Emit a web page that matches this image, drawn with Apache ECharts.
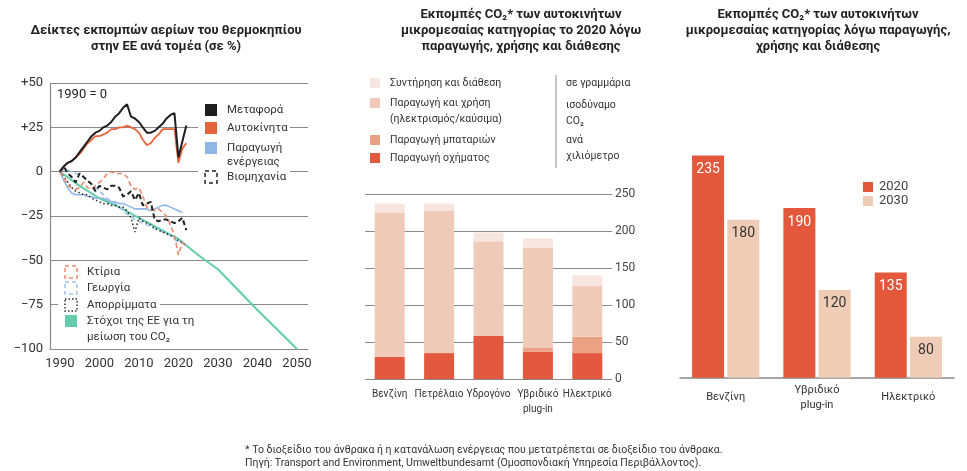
<!DOCTYPE html>
<html><head><meta charset="utf-8">
<script src="https://cdn.jsdelivr.net/npm/echarts@6/dist/echarts.min.js"></script>
<style>html,body{margin:0;padding:0;background:#fff}#c{width:967px;height:471px}</style>
</head><body><div id="c"></div>
<script>
// ---- Left chart: GHG emission indices by sector (1990 = 0)
const years = [1990,1991,1992,1993,1994,1995,1996,1997,1998,1999,2000,2001,2002,2003,2004,2005,2006,2007,2008,2009,2010,2011,2012,2013,2014,2015,2016,2017,2018,2019,2020,2021,2022];
const transport   = [0,3,5,6,8,11,14,17,20,22,23,25,26,28,31,33,36,38,31,30,28,25,22,22,23,25,27,30,32,33,8,17,26];
const cars        = [0,3,5,6,8,10,13,16,18,20,20,21,22,24,24,25,25,26,25,24,22,18,15,16,19,21,24,24,24,24,5,13,16];
const power       = [0,-5,-9,-12,-13,-13,-13,-14,-14,-15,-15,-15,-16,-17,-17,-18,-18,-19,-20,-21,-21,-21,-21,-22,-21,-20,-19,-19,-20,-21,-22,-23,null];
const industry    = [0,3,-1,-3,-6,-1,-3,-5,-7,-11,-8,-9,-10,-8,-8,-9,-14,-13,-11,-16,-12,-19,-18,-17,-27,-28,-27,-27,-28,-29,-28,-26,-33];
const buildings   = [0,-3,-8,-9,-10,-9,-6,-9,-10,-8,-6,-4,-1,0,-1,-1,-1,-3,-8,-10,-9,-14,-20,-21,-22,-21,-23,-25,-30,-36,-47,-40,-42];
const agriculture = [0,1,1,0,-1,-2,-3,-5,-7,-9,-11,-13,-15,-17,-18,-20,-22,-24,-25,-27,-28,-29,-30,-31,-32,-33,-34,-35,-36,-38,-40,-39,null];
const waste       = [0,-3,-6,-9,-11,-12,-13,-13,-15,-16,-17,-18,-18,-19,-19,-20,-20,-22,-26,-34,-26,-28,-29,-30,-32,-33,-34,-35,-36,-37,-39,-40,-42];
const targetYears = [1990,1995,2000,2005,2010,2015,2020,2025,2030,2040,2050];
const targetVals  = [0,-8,-15,-20,-26,-32,-38,-47,-55,-78,-100];
const leftXTicks  = [1990,2000,2010,2020,2030,2040,2050];

// ---- Middle chart: 2020 CO2 per km by life-cycle stage
const midCats     = ['Βενζίνη','Πετρέλαιο','Υδρογόνο','Υβριδικό\nplug-in','Ηλεκτρικό'];
const vehicleProd = [30,35,58,37,35];
const batteryProd = [0,0,0,5,22];
const useProd     = [195,192,128,135,69];
const maintenance = [12,10,12,13,14];

// ---- Right chart: 2020 vs 2030
const rightCats = ['Βενζίνη','Υβριδικό\nplug-in','Ηλεκτρικό'];
const val2020   = [235,190,135];
const val2030   = [180,120,80];

const FONT = 'Roboto, "Noto Sans", sans-serif';
const pair = (xs, vs) => xs.map((x,i) => [x, vs[i]]);
const lineS = (name, data, color, width, type) => ({
  name, type:'line', xAxisIndex:0, yAxisIndex:0, data, showSymbol:false, silent:true,
  lineStyle:{color, width, type: type || 'solid'}, z: 3
});

const txt = (text, x, y, size, opts) => Object.assign({
  type:'text', z:100, style: Object.assign({text, x, y, fill:'#333', font: size+'px '+FONT, verticalAlign:'middle', align:'left'}, (opts||{}).style || {})
}, opts && opts.el || {});
const rect = (x,y,w,h,fill,stroke,dash) => ({
  type:'rect', z:100, shape:{x,y,width:w,height:h},
  style:{fill: fill || 'none', stroke: stroke || null, lineWidth: stroke ? 1.5 : 0, lineDash: dash || null}
});
const TITLE = {font:'bold 13px '+FONT, align:'center', fill:'#222', lineHeight:16};

const graphics = [
  // titles
  txt('Δείκτες εκπομπών αερίων του θερμοκηπίου\nστην ΕΕ ανά τομέα (σε %)', 166, 39, 13, {style:TITLE}),
  txt('Εκπομπές CO₂* των αυτοκινήτων\nμικρομεσαίας κατηγορίας το 2020 λόγω\nπαραγωγής, χρήσης και διάθεσης', 521, 31, 13, {style:TITLE}),
  txt('Εκπομπές CO₂* των αυτοκινήτων\nμικρομεσαίας κατηγορίας λόγω παραγωγής,\nχρήσης και διάθεσης', 818, 31, 13, {style:TITLE}),
  // left chart annotations/legend
  txt('1990 = 0', 57, 95, 13, {style:{fill:'#222'}}),
  {type:'rect', z:99, shape:{x:198,y:100,width:92,height:86}, style:{fill:'#fff'}},
  rect(205,104,12,12,'#1e1e1e'), txt('Μεταφορά', 227, 110, 11.5),
  rect(205,122,12,12,'#e8643f'), txt('Αυτοκίνητα', 227, 128, 11.5),
  rect(205,142,12,12,'#8fb8e6'), txt('Παραγωγή\nενέργειας', 227, 155, 11.5, {style:{lineHeight:14}}),
  rect(205,171,12,12,'#fff','#222',[4,3]), txt('Βιομηχανία', 227, 177, 11.5),
  {type:'rect', z:99, shape:{x:58,y:262,width:102,height:50}, style:{fill:'#fff'}},
  {type:'rect', z:99, shape:{x:58,y:312,width:132,height:33}, style:{fill:'#fff'}},
  rect(65,266,12,12,'#fff','#eb8a6c',[4,3]), txt('Κτίρια', 87, 272, 11.5),
  rect(65,282,12,12,'#fff','#9dc4ea',[4,3]), txt('Γεωργία', 87, 288, 11.5),
  rect(65,299,12,12,'#fff','#333',[1.5,2]), txt('Απορρίμματα', 87, 305, 11.5),
  rect(65,315,12,12,'#62ccab'), txt('Στόχοι της ΕΕ για τη\nμείωση του CO₂', 87, 329, 11.5, {style:{lineHeight:16}}),
  // middle legend
  rect(370,78,10,10,'#f7e5df'), txt('Συντήρηση και διάθεση', 390, 83, 10.5),
  rect(370,98,10,10,'#efcab8'), txt('Παραγωγή και χρήση\n(ηλεκτρισμός/καύσιμα)', 390, 111, 10.5, {style:{lineHeight:16}}),
  rect(370,135,10,10,'#eba184'), txt('Παραγωγή μπαταριών', 390, 140, 10.5),
  rect(370,153,10,10,'#e2593f'), txt('Παραγωγή οχήματος', 390, 158, 10.5),
  {type:'line', z:100, shape:{x1:556,y1:75,x2:556,y2:168}, style:{stroke:'#888', lineWidth:1}},
  txt('σε γραμμάρια', 566, 83, 10.5),
  txt('ισοδύναμο\nCO₂', 566, 113, 10.5, {style:{lineHeight:16}}),
  txt('ανά\nχιλιόμετρο', 566, 148, 10.5, {style:{lineHeight:16}}),
  // right legend
  rect(863,182,10,10,'#e3573b'), txt('2020', 879, 187, 13, {style:{fill:'#444'}}),
  rect(863,196,10,10,'#f0cbb5'), txt('2030', 879, 201, 13, {style:{fill:'#444'}}),
  // footnote
  txt('* Το διοξείδιο του άνθρακα ή η κατανάλωση ενέργειας που μετατρέπεται σε διοξείδιο του άνθρακα.\nΠηγή: Transport and Environment, Umweltbundesamt (Ομοσπονδιακή Υπηρεσία Περιβάλλοντος).', 245, 457, 10.5, {style:{lineHeight:13, fill:'#333'}})
];

const option = {
  backgroundColor:'#fff',
  animation:false,
  textStyle:{fontFamily:FONT},
  grid:[
    {left:50, top:83, width:258, height:266},
    {left:365, top:194, width:247, height:185},
    {left:680, top:143.7, width:274, height:234}
  ],
  xAxis:[
    {type:'value', gridIndex:0, min:1987.5, max:2052.8,
     axisLine:{show:true, onZero:false, lineStyle:{color:'#888', width:1.2}}, axisTick:{show:false}, splitLine:{show:false},
     axisLabel:{customValues:leftXTicks, fontSize:13, color:'#333', margin:8, formatter: v => String(v)}},
    {type:'category', gridIndex:1, data:midCats,
     axisLine:{show:false}, axisTick:{show:false},
     axisLabel:{fontSize:10, color:'#333', margin:8, lineHeight:15, interval:0}},
    {type:'category', gridIndex:2, data:rightCats,
     axisLine:{show:true, lineStyle:{color:'#888', width:1.5}}, axisTick:{show:false},
     axisLabel:{fontSize:11, color:'#333', margin:20, lineHeight:15, verticalAlign:'middle', interval:0}}
  ],
  yAxis:[
    {type:'value', gridIndex:0, min:-100, max:50, interval:25,
     axisLine:{show:true, lineStyle:{color:'#888', width:1.2}}, axisTick:{show:false},
     splitLine:{show:true, lineStyle:{color:'#8a8a8a', width:1}},
     axisLabel:{fontSize:13, color:'#333', margin:7, formatter:v => v>0 ? '+'+v : (v<0 ? '−'+(-v) : '0')}},
    {type:'value', gridIndex:1, position:'right', min:0, max:250, interval:50,
     axisLine:{show:false}, axisTick:{show:false},
     splitLine:{show:true, lineStyle:{color:'#8a8a8a', width:1}},
     axisLabel:{fontSize:12, color:'#444', margin:3}},
    {type:'value', gridIndex:2, min:45, max:245, show:false, splitLine:{show:false}}
  ],
  graphic: graphics,
  series:[
    lineS('Στόχοι', pair(targetYears, targetVals), '#62ccab', 2),
    lineS('Γεωργία', pair(years, agriculture), '#9dc4ea', 1.6, [5,3]),
    lineS('Παραγωγή ενέργειας', pair(years, power), '#8fb8e6', 1.6),
    lineS('Απορρίμματα', pair(years, waste), '#333', 1.6, [1.5,2.5]),
    lineS('Κτίρια', pair(years, buildings), '#eb8a6c', 1.6, [5,3]),
    lineS('Βιομηχανία', pair(years, industry), '#222', 2, [5,3]),
    lineS('Αυτοκίνητα', pair(years, cars), '#e8643f', 1.8),
    lineS('Μεταφορά', pair(years, transport), '#1e1e1e', 2),
    {type:'bar', xAxisIndex:1, yAxisIndex:1, stack:'m', barWidth:30, data:vehicleProd, itemStyle:{color:'#e2593f'}, silent:true},
    {type:'bar', xAxisIndex:1, yAxisIndex:1, stack:'m', barWidth:30, data:batteryProd, itemStyle:{color:'#eba184'}, silent:true},
    {type:'bar', xAxisIndex:1, yAxisIndex:1, stack:'m', barWidth:30, data:useProd, itemStyle:{color:'#efcab8'}, silent:true},
    {type:'bar', xAxisIndex:1, yAxisIndex:1, stack:'m', barWidth:30, data:maintenance, itemStyle:{color:'#f7e5df'}, silent:true},
    {type:'bar', xAxisIndex:2, yAxisIndex:2, barWidth:32, barGap:'10%', data:val2020, itemStyle:{color:'#e3573b'}, silent:true,
     label:{show:true, position:'insideTop', distance:7, color:'#fff', fontSize:14}},
    {type:'bar', xAxisIndex:2, yAxisIndex:2, barWidth:32, barGap:'10%', data:val2030, itemStyle:{color:'#f0cbb5'}, silent:true,
     label:{show:true, position:'insideTop', distance:7, color:'#333', fontSize:14}}
  ]
};
const chart = echarts.init(document.getElementById('c'));
chart.setOption(option);
</script></body></html>
